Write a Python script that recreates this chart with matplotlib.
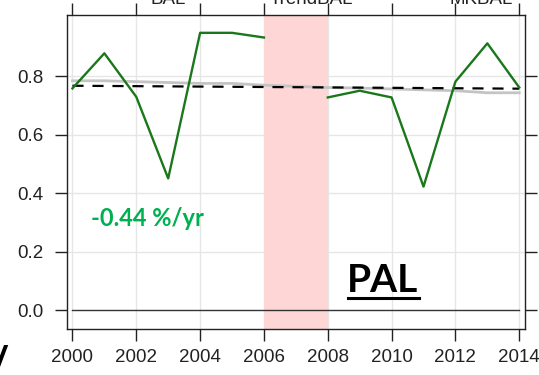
import matplotlib.pyplot as plt
import numpy as np
from matplotlib.lines import Line2D

years = np.arange(2000, 2015)
# annual PAL values, no retrieval in 2007
pal = [0.759, 0.879, 0.730, 0.451, 0.949, 0.949, 0.933, np.nan,
       0.728, 0.751, 0.728, 0.423, 0.782, 0.913, 0.762]
# smoothed baseline
baseline = [0.785, 0.785, 0.782, 0.779, 0.776, 0.776, 0.770, 0.766,
            0.762, 0.760, 0.757, 0.754, 0.751, 0.744, 0.744]
trend_years = [2000, 2014]
trend_vals = [0.768, 0.758]
gap_years = (2006, 2008)
trend_label = '-0.44 %/yr'
site = 'PAL'
key_labels = ['BAL', 'TrendBAL', 'MKBAL']
key_pos = [2003, 2007.5, 2012.8]

W, H = 539, 375
fig = plt.figure(figsize=(W / 100, H / 100), dpi=100)
ax = fig.add_axes([66.7 / W, 1 - 329 / H, (525 - 66.7) / W, (329 - 14.7) / H])

ax.set_xlim(1999.82, 2014.18)
ax.set_ylim(-0.064, 1.011)

for x in range(2000, 2015, 2):
    ax.axvline(x, color='#e6e6e6', lw=1.0, zorder=0)
for y in [0.2, 0.4, 0.6, 0.8]:
    ax.axhline(y, color='#e6e6e6', lw=1.0, zorder=0)

ax.axvspan(*gap_years, color='#ffd6d6', lw=0, zorder=1)
ax.plot([2000, 2014], [0, 0], color='#333333', lw=1.0, zorder=2)

ax.plot(years, baseline, color='#c4c4c4', lw=2.0, zorder=3)
ax.plot(trend_years, trend_vals, color='black', lw=1.6, dashes=(5, 4), zorder=4)
ax.plot(years, pal, color='#1a781a', lw=1.7, zorder=5)

ax.set_xticks(range(2000, 2015, 2))
ax.set_yticks([0.0, 0.2, 0.4, 0.6, 0.8])
ax.set_yticklabels(['0.0', '0.2', '0.4', '0.6', '0.8'])
ax.tick_params(axis='both', direction='out', length=8.5, width=1.0,
               colors='#222222', labelsize=13.5, labelcolor='#222222')
ax.tick_params(axis='y', pad=8, right=True)
ax.tick_params(axis='x', pad=6, top=True)
for lab in ax.get_xticklabels() + ax.get_yticklabels():
    lab.set_family('Liberation Sans')
for s in ax.spines.values():
    s.set_color('#222222')
    s.set_linewidth(1.0)

# key labels sit above the panel, mostly clipped by the figure edge
for lab, xp in zip(key_labels, key_pos):
    xf = ax.transData.transform((xp, 0))[0] / W
    fig.text(xf, 1 - 3.5 / H, lab, ha='center', va='baseline',
             fontsize=13.5, family='Liberation Sans', color='#222222')

fig.text(91 / W, 1 - 226 / H, trend_label, color='#00b050',
         fontsize=17, fontweight='bold', family='Lato', va='baseline')
fig.text(347 / W, 1 - 291.7 / H, site, color='black',
         fontsize=28, fontweight='bold', family='Lato', va='baseline')
fig.add_artist(Line2D([348 / W, 419 / W], [1 - 297.7 / H] * 2,
                      color='black', lw=2.2, transform=fig.transFigure))

fig.text(-6 / W, -4 / H, '/', color='black', fontsize=26, fontweight='bold',
         style='italic', family='Liberation Sans', va='bottom', ha='left')

fig.savefig('out.png', dpi=100)
